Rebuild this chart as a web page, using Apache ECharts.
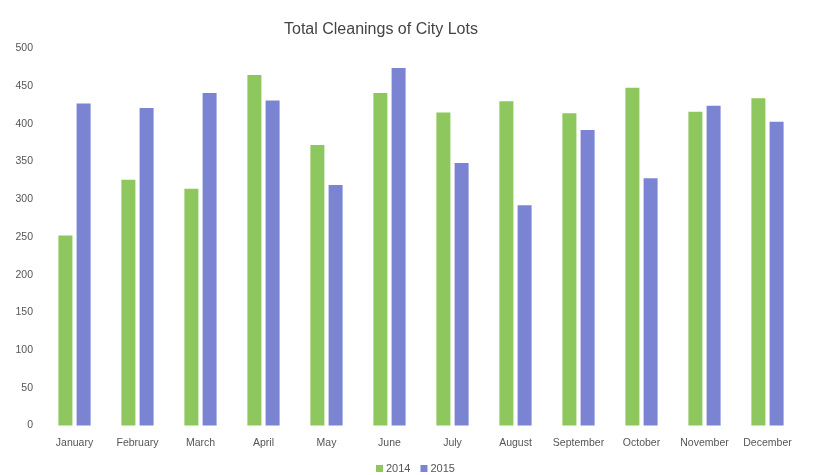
<!DOCTYPE html>
<html><head><meta charset="utf-8">
<script src="https://cdn.jsdelivr.net/npm/echarts@6/dist/echarts.min.js"></script>
<style>html,body{margin:0;padding:0;background:#fff}#c{width:817px;height:475px}</style>
</head><body><div id="c"></div>
<script>
const months = ['January','February','March','April','May','June','July','August','September','October','November','December'];
const values2014 = [252, 326, 314, 465, 372, 441, 415, 430, 414, 448, 416, 434];
const values2015 = [427, 421, 441, 431, 319, 474, 348, 292, 392, 328, 424, 403];
const yTicks = {min: 0, max: 500, interval: 50};

const chart = echarts.init(document.getElementById('c'));
const font = 'Liberation Sans, Arial, sans-serif';
chart.setOption({
  animation: false,
  backgroundColor: '#ffffff',
  title: {
    text: 'Total Cleanings of City Lots',
    left: 279, top: 17,
    textStyle: {fontFamily: font, fontSize: 16, fontWeight: 'normal', color: '#444'}
  },
  legend: {
    left: 371, top: 458,
    itemWidth: 7, itemHeight: 7, itemGap: 10,
    icon: 'rect',
    textStyle: {fontFamily: font, fontSize: 11, color: '#555', padding: [0,0,0,-2]},
    data: ['2014','2015']
  },
  grid: {left: 43, right: 18, top: 48.5, bottom: 49.5, containLabel: false},
  xAxis: {
    type: 'category', data: months,
    axisLine: {show: false}, axisTick: {show: false},
    axisLabel: {fontFamily: font, fontSize: 10.5, color: '#555', margin: 12, interval: 0}
  },
  yAxis: {
    type: 'value', min: yTicks.min, max: yTicks.max, interval: yTicks.interval,
    splitLine: {show: false}, axisLine: {show: false}, axisTick: {show: false},
    axisLabel: {fontFamily: font, fontSize: 10.5, color: '#555', margin: 10}
  },
  series: [
    {name: '2014', type: 'bar', data: values2014, barWidth: 14, barGap: '30%',
     itemStyle: {color: '#8dc75d'}},
    {name: '2015', type: 'bar', data: values2015, barWidth: 14,
     itemStyle: {color: '#7a84d2'}}
  ]
});
</script></body></html>
